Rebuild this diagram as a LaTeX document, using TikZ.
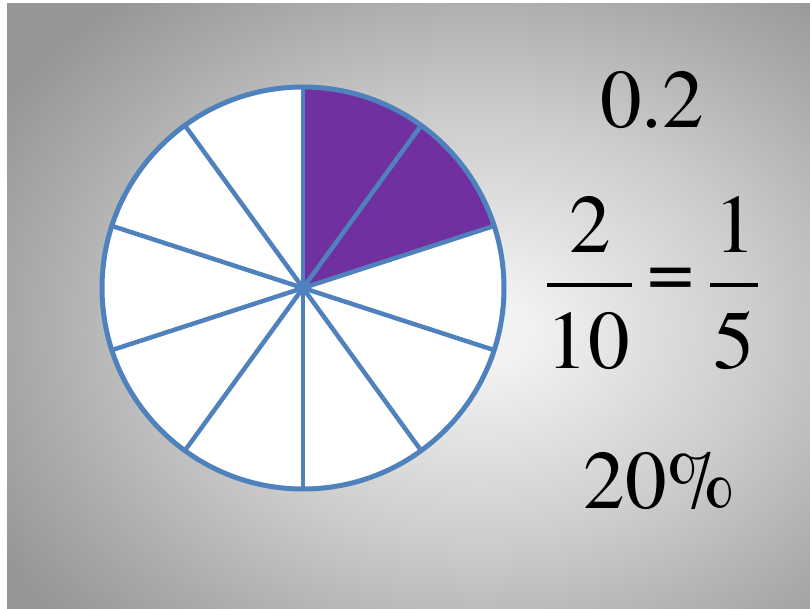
\documentclass[tikz,border=0pt]{standalone}
\usepackage{fontspec}
\setmainfont{texgyretermes-regular.otf}
\newfontfamily\numfont{texgyretermes-regular.otf}
\definecolor{rimblue}{HTML}{4F81BD}
\definecolor{slicepurple}{HTML}{7030A0}
\definecolor{bgA}{gray}{0.95}
\definecolor{bgB}{gray}{0.80}
\definecolor{bgC}{gray}{0.67}
\definecolor{bgD}{gray}{0.59}
\pgfdeclareradialshading{slidebg}{\pgfpoint{0bp}{0bp}}{color(0bp)=(bgA); color(2bp)=(bgA); color(12.5bp)=(bgB); color(20bp)=(bgC); color(25bp)=(bgD); color(50bp)=(bgD)}
\tikzset{
  rim/.style={draw=rimblue, line width=5pt},
  spoke/.style={draw=rimblue, line width=4.5pt},
  num/.style={font=\numfont\fontsize{83}{90}\selectfont, inner sep=0pt, anchor=base},
  bar/.style={line width=4pt}
}
\begin{document}
\begin{tikzpicture}[x=1pt, y=-1pt]
\useasboundingbox (0,0) rectangle (810,609);
\fill[white] (0,0) rectangle (810,609);
\begin{scope}
  \clip (7,4) rectangle (810,609);
  \shade[shading=slidebg] (-80,-100) rectangle (1040,760);
\end{scope}

% pie of ten slices
\node[circle, fill=white, minimum size=402pt, inner sep=0pt, outer sep=0pt] (pie) at (303,288) {};
\fill[slicepurple] (pie.center) -- (pie.90) arc[start angle=-90, end angle=-18, radius=201] -- cycle;
\foreach \a in {90,54,...,-234}
  \draw[spoke] (pie.center) -- (pie.\a);
\draw[rim] (pie.center) circle[radius=201];

% the same amount three ways
\node[num] (dec) at (652,128) {0.2};
\node[num] (num1) at (590,253) {2};
\node[num] (den1) at (588,368) {10};
\node[num, anchor=center] (eq) at (671,283) {=};
\node[num] (num2) at (735,253) {1};
\node[num] (den2) at (734,368) {5};
\draw[bar] (547,285) -- (632,285);
\draw[bar] (710,285) -- (758,285);
\node[num] (pct) at (660,508) {20\%};
\end{tikzpicture}
\end{document}
